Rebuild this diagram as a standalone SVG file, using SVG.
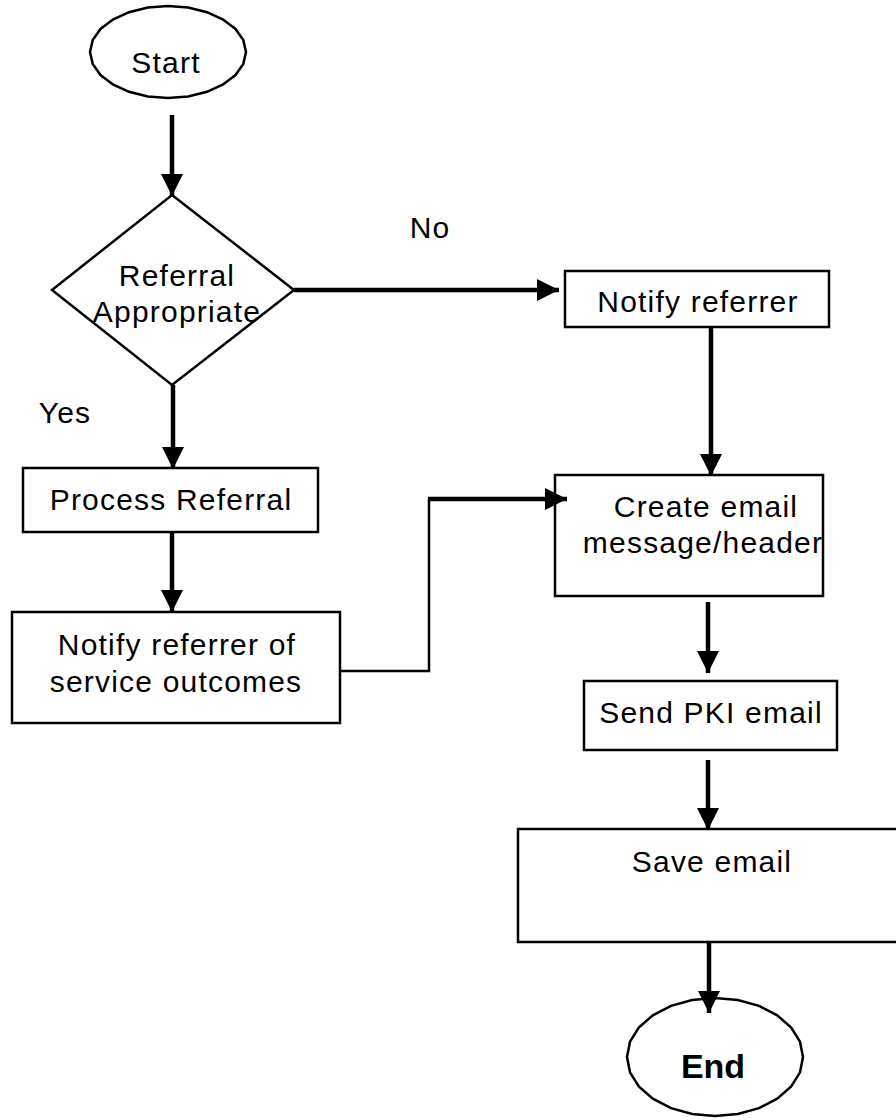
<svg xmlns="http://www.w3.org/2000/svg" width="896" height="1120" viewBox="0 0 896 1120">
<style>
.shape{fill:#fff;stroke:#000;stroke-width:2.5}
.t{font-family:"Liberation Sans",Arial,sans-serif;font-size:30px;letter-spacing:1.2px;fill:#000;text-anchor:middle}
.b{font-family:"Liberation Sans",Arial,sans-serif;font-size:34px;font-weight:bold;fill:#000;text-anchor:middle}
.arr{fill:none;stroke:#000;stroke-width:4.5;marker-end:url(#ah)}
.thin{fill:none;stroke:#000;stroke-width:2.5}
</style>
<defs>
<marker id="ah" markerUnits="userSpaceOnUse" markerWidth="23" markerHeight="22" refX="22" refY="11" orient="auto" viewBox="0 0 23 22">
<path d="M0,0 L22,11 L0,22 z" fill="#000"/>
</marker>
</defs>
<rect width="896" height="1120" fill="#fff"/>

<g id="start">
<polygon class="shape" points="246,52 243.3,63.9 235.5,75 223.1,84.5 207,91.8 188.2,96.4 168,98 147.8,96.4 129,91.8 112.9,84.5 100.5,75 92.7,63.9 90,52 92.7,40.1 100.5,29 112.9,19.5 129,12.2 147.8,7.6 168,6 188.2,7.6 207,12.2 223.1,19.5 235.5,29 243.3,40.1"/>
<text class="t" x="166" y="73">Start</text>
</g>

<g id="decision">
<polygon class="shape" points="172,195 294,290 172,385 52,290"/>
<text class="t" x="177" y="286">Referral</text>
<text class="t" x="177" y="322">Appropriate</text>
</g>

<g id="notify-referrer">
<rect class="shape" x="565" y="271" width="264" height="56"/>
<text class="t" x="698" y="312">Notify referrer</text>
</g>

<g id="process-referral">
<rect class="shape" x="23" y="468" width="295" height="64"/>
<text class="t" x="171" y="510">Process Referral</text>
</g>

<g id="notify-outcomes">
<rect class="shape" x="12" y="612" width="328" height="111"/>
<text class="t" x="177" y="655">Notify referrer of</text>
<text class="t" x="176" y="692">service outcomes</text>
</g>

<g id="create-email">
<rect class="shape" x="555" y="475" width="268" height="121"/>
<text class="t" x="706" y="517">Create email</text>
<text class="t" x="703" y="553">message/header</text>
</g>

<g id="send-pki">
<rect class="shape" x="584" y="681" width="253" height="69"/>
<text class="t" x="711" y="723">Send PKI email</text>
</g>

<g id="save-email">
<rect class="shape" x="518" y="829" width="390" height="113"/>
<text class="t" x="712" y="872">Save email</text>
</g>

<g id="end">
<polygon class="shape" points="803,1057 800,1072.3 791.2,1086.5 777.2,1098.7 759,1108.1 737.8,1114 715,1116 692.2,1114 671,1108.1 652.8,1098.7 638.8,1086.5 630,1072.3 627,1057 630,1041.7 638.8,1027.5 652.8,1015.3 671,1005.9 692.2,1000 715,998 737.8,1000 759,1005.9 777.2,1015.3 791.2,1027.5 800,1041.7"/>
<text class="b" x="713" y="1078">End</text>
</g>

<g id="connectors">
<line class="arr" x1="172" y1="115" x2="172" y2="196"/>
<line class="arr" x1="294" y1="290" x2="559" y2="290"/>
<line class="arr" x1="173" y1="385" x2="173" y2="469"/>
<line class="arr" x1="172" y1="532" x2="172" y2="612"/>
<line class="arr" x1="711" y1="327" x2="711" y2="476"/>
<polyline class="thin" points="340,671 429,671 429,499"/>
<line class="arr" x1="428" y1="499" x2="567" y2="499"/>
<line class="arr" x1="708" y1="602" x2="708" y2="673"/>
<line class="arr" x1="708" y1="760" x2="708" y2="830"/>
<line class="arr" x1="709" y1="942" x2="709" y2="1013"/>
</g>

<g id="labels">
<text class="t" x="430" y="238">No</text>
<text class="t" x="65" y="423">Yes</text>
</g>
</svg>
